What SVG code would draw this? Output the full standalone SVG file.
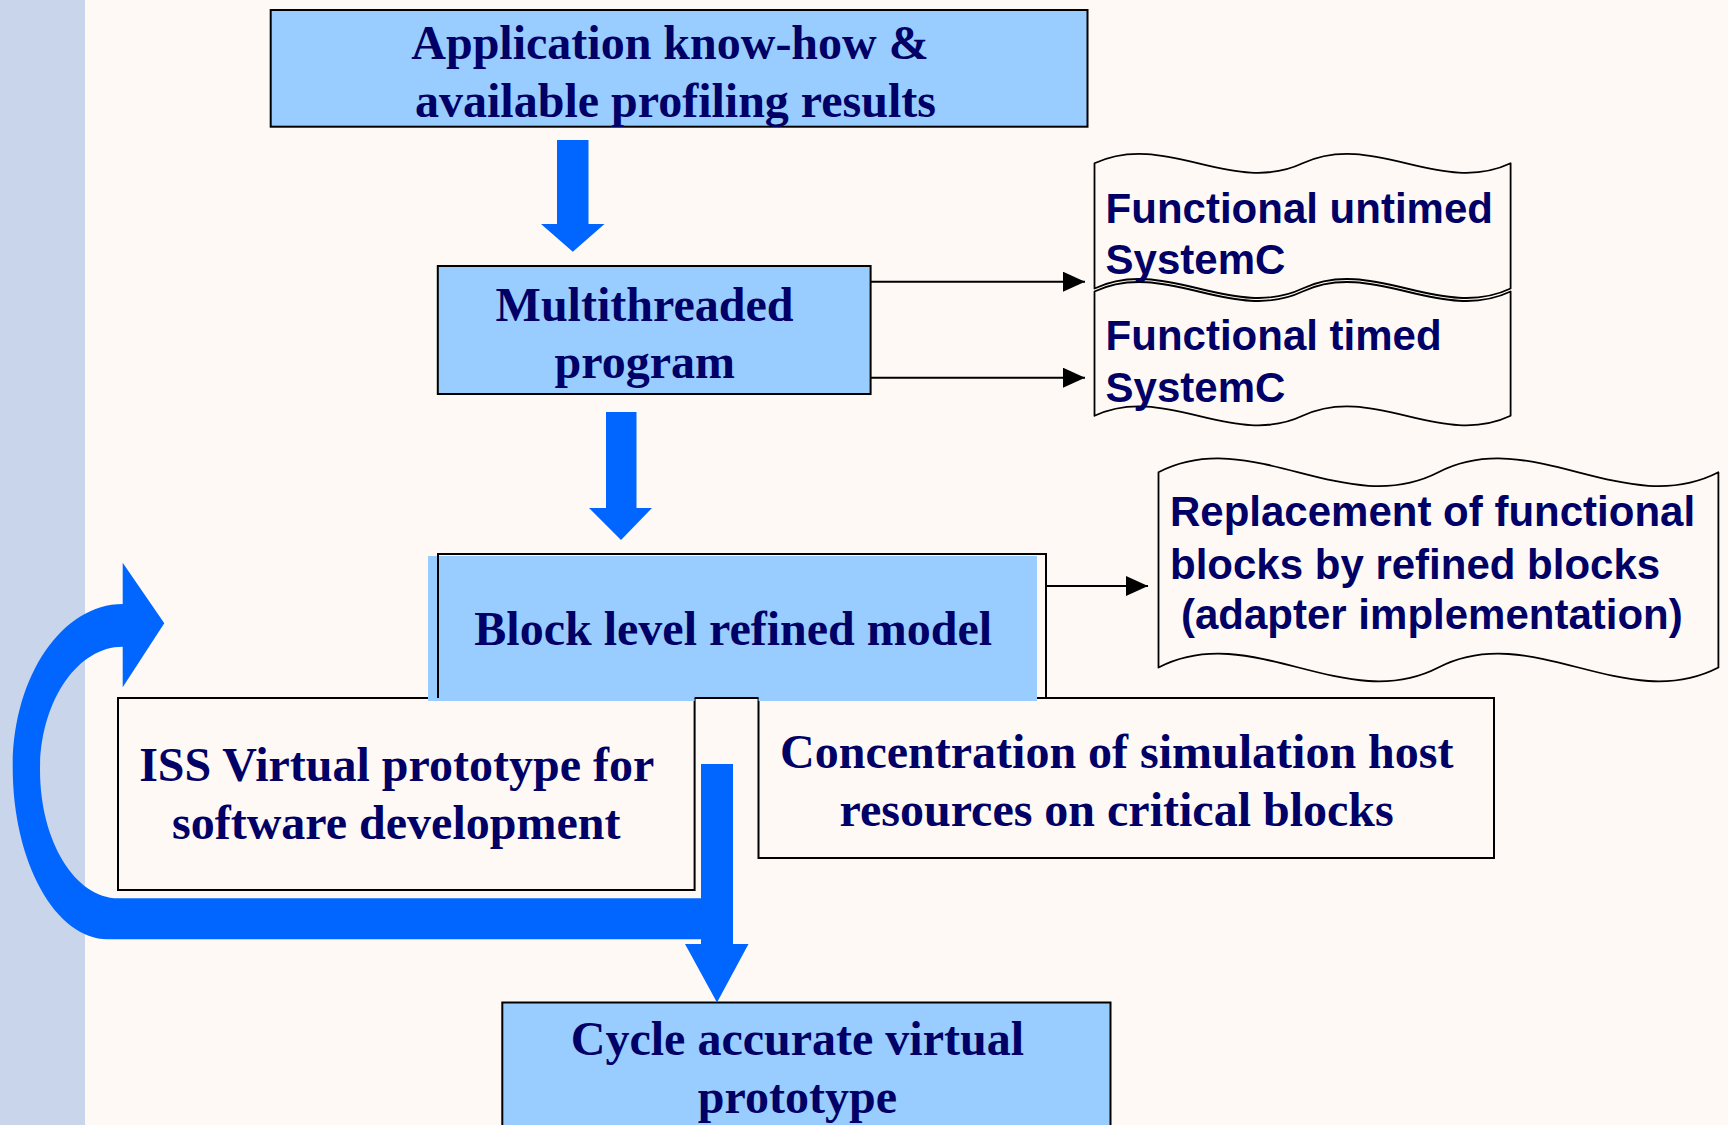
<svg xmlns="http://www.w3.org/2000/svg" width="1728" height="1125" viewBox="0 0 1728 1125">
  <defs>
    <style>
      .bg { fill: #FEF9F4; }
      .strip { fill: #C9D5EB; }
      .bluebox { fill: #99CCFF; stroke: #000000; stroke-width: 2; }
      .plainbox { fill: #FEF9F4; stroke: #000000; stroke-width: 2; }
      .doc { fill: #FEF9F4; stroke: #000000; stroke-width: 1.8; stroke-linejoin: round; }
      .bigarrow { fill: #0066FF; stroke: none; }
      .edge { stroke: #000000; stroke-width: 2; fill: none; }
      .serif { font-family: "Liberation Serif", "Times New Roman", serif; font-weight: bold; font-size: 48px; fill: #000066; text-anchor: middle; }
      .sans { font-family: "Liberation Sans", Arial, sans-serif; font-weight: bold; font-size: 42px; fill: #000066; }
    </style>
    <marker id="tri" viewBox="0 0 22 20" refX="22" refY="10" markerWidth="22" markerHeight="20" markerUnits="userSpaceOnUse" orient="auto">
      <path d="M0,0 L22,10 L0,20 Z" fill="#000000"/>
    </marker>
  </defs>

  <rect class="bg" x="0" y="0" width="1728" height="1125"/>
  <rect class="strip" x="0" y="0" width="85" height="1125"/>

  <g id="node-app">
    <rect class="bluebox" x="270.7" y="10" width="816.8" height="116.7"/>
    <text class="serif" x="670" y="59.3">Application know-how &amp;</text>
    <text class="serif" x="675.5" y="116.7">available profiling results</text>
  </g>

  <g id="node-multi">
    <rect class="bluebox" x="437.8" y="266" width="432.8" height="128"/>
    <text class="serif" x="644.5" y="320.7">Multithreaded</text>
    <text class="serif" x="644.8" y="378.3">program</text>
  </g>

  <g id="node-untimed">
    <path class="doc" d="M1094.5,163.3 C1163.9,130.4 1233.2,196.2 1302.6,163.3 C1371.9,130.4 1441.3,196.2 1510.6,163.3 L1510.6,288.5 C1441.3,321.4 1371.9,255.6 1302.6,288.5 C1233.2,321.4 1163.9,255.6 1094.5,288.5 Z"/>
    <text class="sans" x="1105.6" y="222.6">Functional untimed</text>
    <text class="sans" x="1105.6" y="274.3">SystemC</text>
  </g>

  <g id="node-timed">
    <path class="doc" d="M1094.5,291.5 C1163.9,258.6 1233.2,324.4 1302.6,291.5 C1371.9,258.6 1441.3,324.4 1510.6,291.5 L1510.6,415.8 C1441.3,448.7 1371.9,382.9 1302.6,415.8 C1233.2,448.7 1163.9,382.9 1094.5,415.8 Z"/>
    <text class="sans" x="1105.6" y="350.1">Functional timed</text>
    <text class="sans" x="1105.6" y="401.7">SystemC</text>
  </g>

  <g id="node-replacement">
    <path class="doc" d="M1158.5,472.3 C1251.8,424.3 1345.1,520.3 1438.4,472.3 C1531.7,424.3 1625.1,520.3 1718.4,472.3 L1718.4,667.5 C1625.1,715.5 1531.7,619.5 1438.4,667.5 C1345.1,715.5 1251.8,619.5 1158.5,667.5 Z"/>
    <text class="sans" x="1170" y="525.7">Replacement of functional</text>
    <text class="sans" x="1170" y="579">blocks by refined blocks</text>
    <text class="sans" x="1181" y="629">(adapter implementation)</text>
  </g>

  <g id="node-iss">
    <rect class="plainbox" x="118" y="698" width="576.6" height="192"/>
    <text class="serif" x="396.7" y="780.7">ISS Virtual prototype for</text>
    <text class="serif" x="396.2" y="838.5">software development</text>
  </g>

  <g id="node-concentration">
    <rect class="plainbox" x="758.5" y="698" width="735.5" height="160"/>
    <text class="serif" x="1116.8" y="768.3">Concentration of simulation host</text>
    <text class="serif" x="1116.6" y="825.7">resources on critical blocks</text>
  </g>

  <g id="node-block">
    <path d="M428,556 H1037 V701 H758.5 V698 H694.6 V701 H428 Z" fill="#99CCFF"/>
    <path class="edge" d="M438,698 V554 H1046 V698"/>
    <path class="edge" d="M694.6,698 H758.5"/>
    <text class="serif" x="733.2" y="645">Block level refined model</text>
  </g>

  <g id="node-cycle">
    <rect class="bluebox" x="502.3" y="1002.5" width="608.2" height="140"/>
    <text class="serif" x="797.4" y="1055">Cycle accurate virtual</text>
    <text class="serif" x="797.4" y="1113">prototype</text>
  </g>

  <g id="connectors">
    <path class="bigarrow" d="M557,140 H588.5 V224 H604.5 L572.8,251.7 L541,224 H557 Z"/>
    <path class="bigarrow" d="M606,412 H636.5 V508 H652 L621,540 L589,508 H606 Z"/>
    <path class="edge" d="M870.6,281.7 H1085" marker-end="url(#tri)"/>
    <path class="edge" d="M870.6,377.7 H1085" marker-end="url(#tri)"/>
    <path class="edge" d="M1046,586 H1148" marker-end="url(#tri)"/>
    <path class="bigarrow" d="M122.7,604 V562.7 L164.3,623.3 L122.7,687.3 V646.7 C77,646.7 40,701.9 40,770 C40,840.9 75,898.3 118.3,898.3 H706 V939.3 H108 C55.4,939.3 12.7,862.2 12.7,767 C12.7,677 61.9,604 122.7,604 Z"/>
    <path class="bigarrow" d="M701,764 H733 V944 H748.5 L717,1002.5 L685,944 H701 Z"/>
  </g>
</svg>
